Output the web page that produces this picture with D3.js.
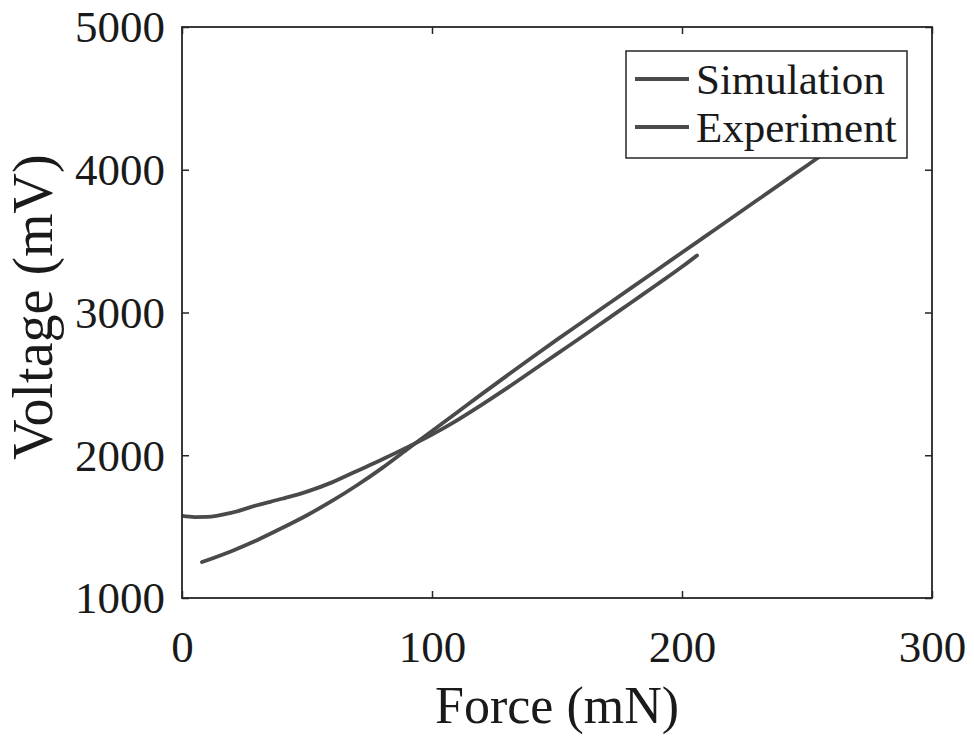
<!DOCTYPE html>
<html>
<head>
<meta charset="utf-8">
<script src="https://cdn.jsdelivr.net/npm/d3@7"></script>
<style>
  html, body { margin: 0; padding: 0; background: #fff; }
  svg { display: block; }
  text { font-family: "Liberation Serif", "Times New Roman", serif; fill: #1a1a1a; }
</style>
</head>
<body>
<svg id="chart" width="974" height="736"></svg>
<script>
// ---- data ----
const xTicks = [0, 100, 200, 300];
const yTicks = [1000, 2000, 3000, 4000, 5000];

const simForce   = [8, 20, 30, 40, 50, 60, 70, 80, 90, 100, 110, 120, 130, 140, 150, 160, 170, 180, 190, 200, 210, 220, 230, 240, 250, 260, 270];
const simVoltage = [1252, 1330, 1405, 1490, 1580, 1680, 1790, 1910, 2040, 2170, 2300, 2430, 2558, 2685, 2810, 2932, 3054, 3176, 3298, 3420, 3542, 3664, 3786, 3908, 4030, 4152, 4274];

const expForce   = [0, 5, 10, 20, 30, 40, 50, 60, 70, 80, 90, 100, 110, 120, 130, 140, 150, 160, 170, 180, 190, 200, 206];
const expVoltage = [1575, 1567, 1568, 1598, 1650, 1695, 1745, 1810, 1890, 1970, 2055, 2145, 2245, 2355, 2470, 2590, 2710, 2830, 2952, 3074, 3196, 3320, 3400];

const seriesNames = ["Simulation", "Experiment"];
const xLabel = "Force (mN)";
const yLabel = "Voltage (mV)";

// ---- layout ----
const svg = d3.select("#chart");
const L = 182, R = 932, T = 27, B = 598;
const x = d3.scaleLinear().domain([0, 300]).range([L, R]);
const y = d3.scaleLinear().domain([1000, 5000]).range([B, T]);

svg.append("defs").append("clipPath").attr("id", "clip")
  .append("rect").attr("x", L).attr("y", T).attr("width", R - L).attr("height", B - T);

const lineColor = "#4a4a4a";
const line = d3.line().x(d => x(d[0])).y(d => y(d[1])).curve(d3.curveMonotoneX);

const simData = simForce.map((f, i) => [f, simVoltage[i]]);
const expData = expForce.map((f, i) => [f, expVoltage[i]]);

const plot = svg.append("g").attr("clip-path", "url(#clip)");
[simData, expData].forEach(d => {
  plot.append("path").datum(d).attr("d", line)
    .attr("fill", "none").attr("stroke", lineColor).attr("stroke-width", 3.8)
    .attr("stroke-linejoin", "round").attr("stroke-linecap", "round");
});

// ---- axes ----
const axisColor = "#262626";
const tickLen = 7;
const fs = 45;

const axB = svg.append("g").attr("transform", `translate(0,${B})`)
  .call(d3.axisBottom(x).tickValues(xTicks).tickSize(-tickLen).tickPadding(0).tickFormat(d3.format("d")));
const axT = svg.append("g").attr("transform", `translate(0,${T})`)
  .call(d3.axisTop(x).tickValues(xTicks).tickSize(-tickLen).tickFormat(""));
const axL = svg.append("g").attr("transform", `translate(${L},0)`)
  .call(d3.axisLeft(y).tickValues(yTicks).tickSize(-tickLen).tickPadding(0).tickFormat(d3.format("d")));
const axR = svg.append("g").attr("transform", `translate(${R},0)`)
  .call(d3.axisRight(y).tickValues(yTicks).tickSize(-tickLen).tickFormat(""));

[axB, axT, axL, axR].forEach(g => {
  g.select(".domain").remove();
  g.selectAll(".tick line").attr("stroke", axisColor).attr("stroke-width", 1.5);
});

axB.selectAll(".tick text")
  .attr("font-size", fs).attr("font-family", "Liberation Serif, serif")
  .attr("fill", "#1a1a1a").attr("y", 64).attr("dy", null);
axL.selectAll(".tick text")
  .attr("font-size", fs).attr("font-family", "Liberation Serif, serif")
  .attr("fill", "#1a1a1a").attr("x", -17).attr("dy", "0.33em");

svg.append("rect").attr("x", L).attr("y", T).attr("width", R - L).attr("height", B - T)
  .attr("fill", "none").attr("stroke", axisColor).attr("stroke-width", 1.8);

// ---- axis titles ----
svg.append("text").attr("x", (L + R) / 2).attr("y", 723)
  .attr("text-anchor", "middle").attr("font-size", 52).text(xLabel);
svg.append("text").attr("transform", `translate(52,307) rotate(-90)`)
  .attr("text-anchor", "middle").attr("font-size", 56).text(yLabel);

// ---- legend ----
const lg = svg.append("g");
lg.append("rect").attr("x", 626).attr("y", 51).attr("width", 281).attr("height", 107)
  .attr("fill", "#fff").attr("stroke", axisColor).attr("stroke-width", 1.5);
const legY = [79, 127];
seriesNames.forEach((n, i) => {
  lg.append("line").attr("x1", 635).attr("x2", 689).attr("y1", legY[i]).attr("y2", legY[i])
    .attr("stroke", lineColor).attr("stroke-width", 3.8);
  lg.append("text").attr("x", 696).attr("y", legY[i] + 15).attr("font-size", 43).text(n);
});
</script>
</body>
</html>
